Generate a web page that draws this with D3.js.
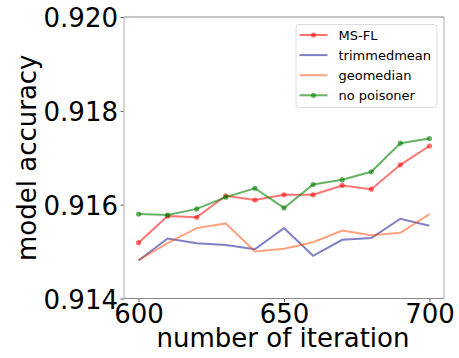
<!DOCTYPE html>
<html>
<head>
<meta charset="utf-8">
<script src="https://cdn.jsdelivr.net/npm/d3@7"></script>
<style>
  body { margin: 0; background: #fff; }
  text { font-family: "DejaVu Sans", sans-serif; }
</style>
</head>
<body>
<div id="chart"></div>
<script>
'use strict';

// Values
const iterations = [600, 610, 620, 630, 640, 650, 660, 670, 680, 690, 700];
const msfl = [0.91519, 0.91576, 0.91573, 0.91619, 0.91610, 0.91621, 0.91621, 0.91641, 0.91633, 0.91685, 0.91725];
const trimmedmean = [0.91481, 0.91528, 0.91518, 0.91514, 0.91505, 0.91550, 0.91491, 0.91525, 0.91529, 0.91570, 0.91555];
const geomedian = [0.91482, 0.91518, 0.91550, 0.91560, 0.91500, 0.91506, 0.91520, 0.91545, 0.91535, 0.91540, 0.91580];
const noPoisoner = [0.91580, 0.91578, 0.91591, 0.91616, 0.91635, 0.91593, 0.91643, 0.91653, 0.91670, 0.91731, 0.91741];
const xTicks = [600, 650, 700];
const yTicks = [0.914, 0.916, 0.918, 0.920];

const series = [
  { name: "MS-FL", values: msfl, color: "rgba(255,0,0,0.55)", marker: true },
  { name: "trimmedmean", values: trimmedmean, color: "rgba(0,0,139,0.5)", marker: false },
  { name: "geomedian", values: geomedian, color: "rgba(255,69,0,0.5)", marker: false },
  { name: "no poisoner", values: noPoisoner, color: "rgba(0,128,0,0.6)", marker: true }
];

const width = 459;
const height = 358;
const margin = { top: 17, right: 15, bottom: 59.5, left: 124 };

const svg = d3.select("#chart").append("svg")
    .attr("width", width)
    .attr("height", height);

const x = d3.scaleLinear()
    .domain([595, 705])
    .range([margin.left, width - margin.right]);

const y = d3.scaleLinear()
    .domain([0.914, 0.920])
    .range([height - margin.bottom, margin.top]);

// axes
const xAxis = svg.append("g")
    .attr("transform", "translate(0," + (height - margin.bottom) + ")")
    .call(d3.axisBottom(x).tickValues(xTicks).tickFormat(d3.format("d")).tickSize(3.5).tickSizeOuter(0));
xAxis.select(".domain").remove();
xAxis.selectAll("line").attr("stroke", "#333").attr("stroke-width", 0.8);
xAxis.selectAll("text")
    .attr("fill", "#000")
    .attr("font-size", 26)
    .attr("dy", null)
    .attr("y", 24.5);

const yAxis = svg.append("g")
    .attr("transform", "translate(" + margin.left + ",0)")
    .call(d3.axisLeft(y).tickValues(yTicks).tickFormat(d3.format(".3f")).tickSize(3.5).tickSizeOuter(0));
yAxis.select(".domain").remove();
yAxis.selectAll("line").attr("stroke", "#333").attr("stroke-width", 0.8);
yAxis.selectAll("text")
    .attr("fill", "#000")
    .attr("font-size", 26)
    .attr("dy", null)
    .attr("y", 9.5)
    .attr("x", -6);

// frame
const x0 = margin.left, x1 = width - margin.right;
const y0 = margin.top, y1 = height - margin.bottom;
svg.append("line").attr("x1", x0).attr("x2", x1).attr("y1", y0).attr("y2", y0).attr("stroke", "#888");
svg.append("line").attr("x1", x0).attr("x2", x1).attr("y1", y1).attr("y2", y1).attr("stroke", "#888");
svg.append("line").attr("x1", x0).attr("x2", x0).attr("y1", y0).attr("y2", y1).attr("stroke", "#aaa");
svg.append("line").attr("x1", x1).attr("x2", x1).attr("y1", y0).attr("y2", y1).attr("stroke", "#aaa");

// lines
const line = d3.line()
    .x((d, i) => x(iterations[i]))
    .y(d => y(d));

series.forEach(function (s) {
  svg.append("path")
      .datum(s.values)
      .attr("fill", "none")
      .attr("stroke", s.color)
      .attr("stroke-width", 2)
      .attr("d", line);
  if (s.marker) {
    svg.append("g").selectAll("circle")
        .data(s.values)
        .enter()
        .append("circle")
        .attr("cx", (d, i) => x(iterations[i]))
        .attr("cy", d => y(d))
        .attr("r", 2.6)
        .attr("fill", s.color);
  }
});

// legend
const legend = svg.append("g");
legend.append("rect")
    .attr("x", 296).attr("y", 24.5)
    .attr("width", 141).attr("height", 83)
    .attr("rx", 3)
    .attr("fill", "#fff")
    .attr("fill-opacity", 0.8)
    .attr("stroke", "#ddd");

series.forEach(function (s, i) {
  const ly = 35 + i * 20.1;
  legend.append("line")
      .attr("x1", 299.5).attr("x2", 327.5)
      .attr("y1", ly).attr("y2", ly)
      .attr("stroke", s.color)
      .attr("stroke-width", 2);
  if (s.marker) {
    legend.append("circle")
        .attr("cx", 313.5).attr("cy", ly).attr("r", 2.6)
        .attr("fill", s.color);
  }
  legend.append("text")
      .attr("x", 338.5)
      .attr("y", ly + 4.7)
      .attr("font-size", 13)
      .attr("fill", "#000")
      .text(s.name);
});

// axis titles
svg.append("text")
    .attr("x", 283)
    .attr("y", 347)
    .attr("text-anchor", "middle")
    .attr("font-size", 26)
    .attr("fill", "#000")
    .text("number of iteration");

svg.append("text")
    .attr("transform", "translate(36," + ((y0 + y1) / 2) + ") rotate(-90)")
    .attr("text-anchor", "middle")
    .attr("font-size", 26)
    .attr("fill", "#000")
    .text("model accuracy");
</script>
</body>
</html>
